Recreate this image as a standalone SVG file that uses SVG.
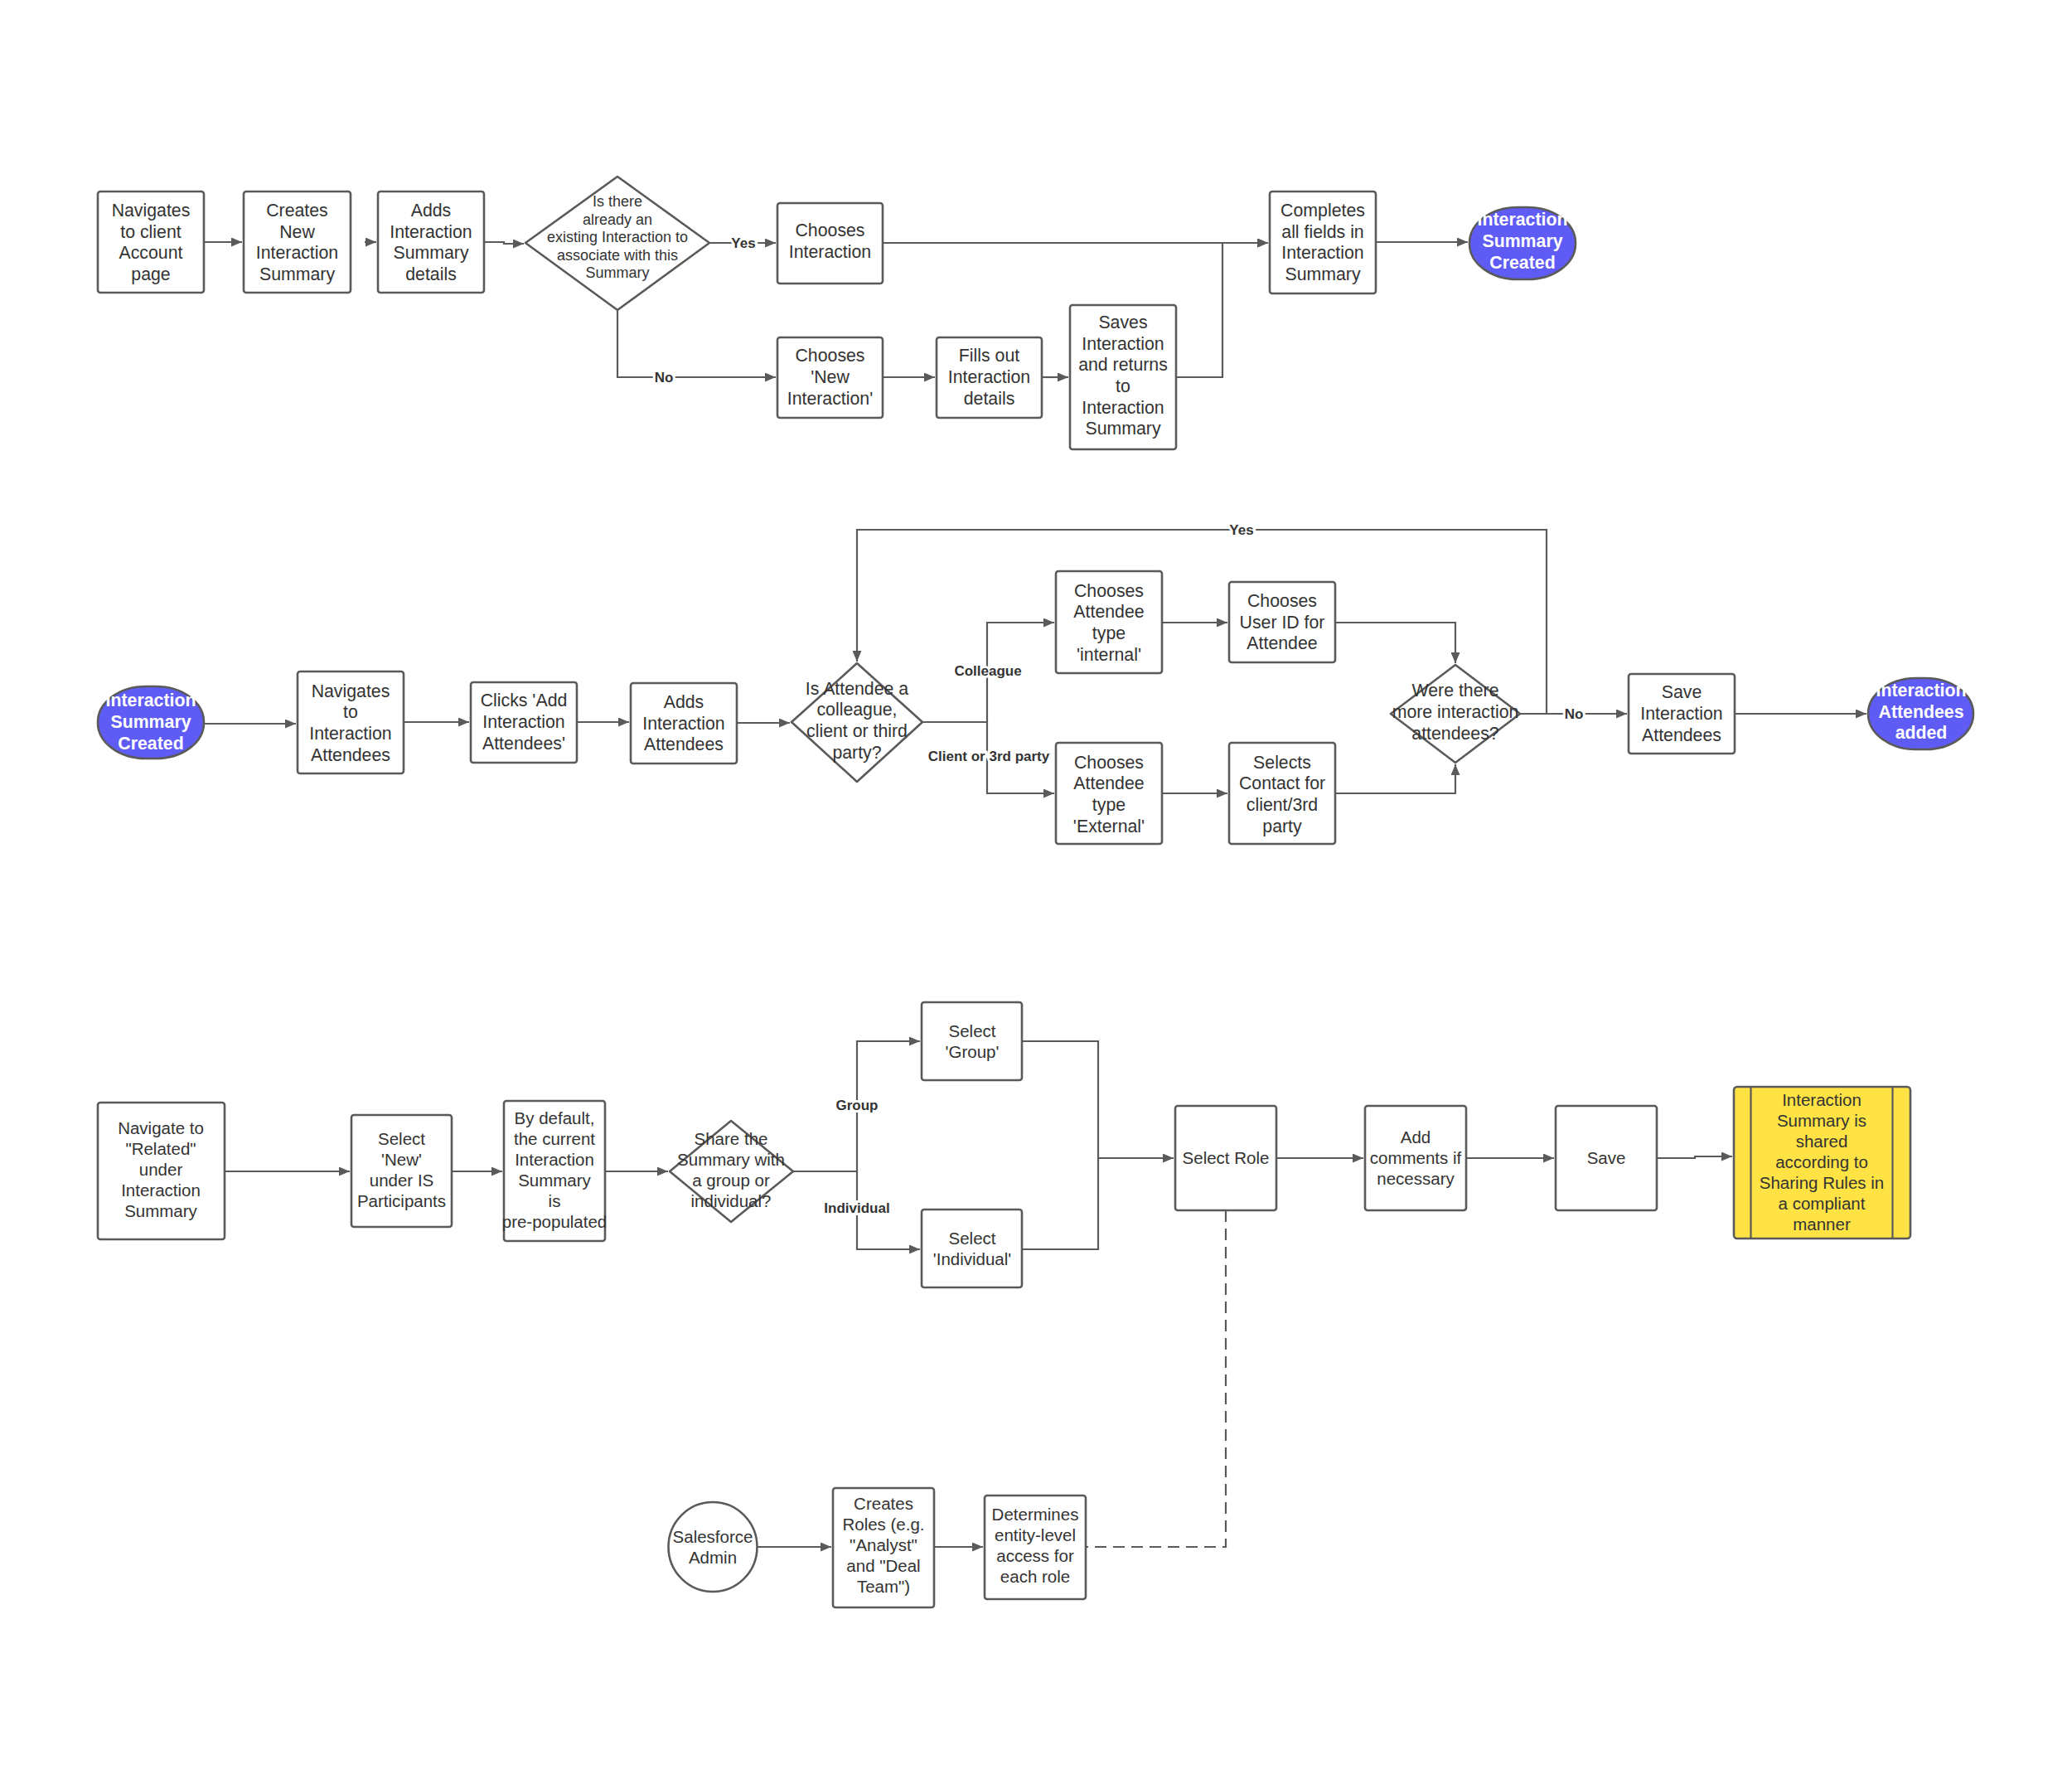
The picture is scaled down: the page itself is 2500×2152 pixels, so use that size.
<svg xmlns="http://www.w3.org/2000/svg" width="2500" height="2152" viewBox="0 0 2500 2152">
<defs>
<marker id="arr" markerUnits="userSpaceOnUse" markerWidth="13" markerHeight="11" refX="13" refY="5.5" orient="auto"><path d="M0,0 L13,5.5 L0,11 z" fill="#5a5a5a"/></marker>
<style>
.box{fill:#fff;stroke:#5a5a5a;stroke-width:2.6}
.term{fill:#5f5cf6;stroke:#5a5a5a;stroke-width:2.6}
.yel{fill:#ffe244;stroke:#5a5a5a;stroke-width:2.6}
.ln{fill:none;stroke:#5a5a5a;stroke-width:2.2;marker-end:url(#arr)}
.pl{fill:none;stroke:#5a5a5a;stroke-width:2.2}
.dash{fill:none;stroke:#5a5a5a;stroke-width:2.2;stroke-dasharray:14 8}
text{font-family:"Liberation Sans",Arial,sans-serif;text-anchor:middle;dominant-baseline:central}
.t{font-size:21.3px;fill:#333}
.t3{font-size:20.5px;fill:#333}
.ts{font-size:18px;fill:#333}
.tw{font-size:21.3px;fill:#fff;font-weight:bold}
.lb{font-size:17px;fill:#333;font-weight:bold;stroke:#fff;stroke-width:6;paint-order:stroke}
</style>
</defs>
<rect width="2500" height="2152" fill="#fff"/>

<g id="connectors">
<path class="ln" d="M246,292 L292,292"/>
<path class="ln" d="M440,292 L454,292"/>
<path class="ln" d="M584,292 L608,292 L608,294 L632,294"/>
<path class="ln" d="M856,293 L936,293"/>
<path class="ln" d="M745,374 L745,455 L936,455"/>
<path class="ln" d="M1065,293 L1530,293"/>
<path class="ln" d="M1065,455 L1128,455"/>
<path class="ln" d="M1257,455 L1289,455"/>
<path class="ln" d="M1419,455 L1475,455 L1475,293 L1530,293"/>
<path class="ln" d="M1660,292 L1771,292"/>

<path class="ln" d="M246,873 L357,873"/>
<path class="ln" d="M487,871 L566,871"/>
<path class="ln" d="M696,871 L759,871"/>
<path class="ln" d="M889,872 L953,872"/>
<path class="ln" d="M1113,871 L1191,871 L1191,751 L1272,751"/>
<path class="ln" d="M1191,871 L1191,957 L1272,957"/>
<path class="ln" d="M1402,751 L1481,751"/>
<path class="ln" d="M1611,751 L1756,751 L1756,800"/>
<path class="ln" d="M1402,957 L1481,957"/>
<path class="ln" d="M1611,957 L1756,957 L1756,922"/>
<path class="ln" d="M1834,861 L1963,861"/>
<path class="ln" d="M1866,861 L1866,639 L1034,639 L1034,798"/>
<path class="ln" d="M2093,861 L2252,861"/>

<path class="ln" d="M271,1413 L422,1413"/>
<path class="ln" d="M545,1413 L606,1413"/>
<path class="ln" d="M730,1413 L806,1413"/>
<path class="ln" d="M957,1413 L1034,1413 L1034,1256 L1110,1256"/>
<path class="ln" d="M1034,1413 L1034,1507 L1110,1507"/>
<path class="pl" d="M1234,1256 L1325,1256 L1325,1507 L1234,1507"/>
<path class="ln" d="M1325,1397 L1416,1397"/>
<path class="ln" d="M1540,1397 L1645,1397"/>
<path class="ln" d="M1769,1397 L1875,1397"/>
<path class="ln" d="M1999,1397 L2045,1397 L2045,1395 L2090,1395"/>
<path class="dash" d="M1479,1460 L1479,1866 L1311,1866"/>
<path class="ln" d="M914,1866 L1003,1866"/>
<path class="ln" d="M1127,1866 L1186,1866"/>

<text class="lb" x="897" y="293">Yes</text>
<text class="lb" x="801" y="455">No</text>
<text class="lb" x="1192" y="809">Colleague</text>
<text class="lb" x="1193" y="912">Client or 3rd party</text>
<text class="lb" x="1899" y="861">No</text>
<text class="lb" x="1498" y="639">Yes</text>
<text class="lb" x="1034" y="1333">Group</text>
<text class="lb" x="1034" y="1457">Individual</text>
</g>

<g id="n1"><rect class="box" x="118" y="231" width="128" height="122" rx="3"/>
<text class="t"><tspan x="182" y="254">Navigates</tspan><tspan x="182" y="279.6">to client</tspan><tspan x="182" y="305.4">Account</tspan><tspan x="182" y="331">page</tspan></text></g>
<g id="n2"><rect class="box" x="294" y="231" width="129" height="122" rx="3"/>
<text class="t"><tspan x="358.5" y="254">Creates</tspan><tspan x="358.5" y="279.6">New</tspan><tspan x="358.5" y="305.4">Interaction</tspan><tspan x="358.5" y="331">Summary</tspan></text></g>
<g id="n3"><rect class="box" x="456" y="231" width="128" height="122" rx="3"/>
<text class="t"><tspan x="520" y="254">Adds</tspan><tspan x="520" y="279.6">Interaction</tspan><tspan x="520" y="305.4">Summary</tspan><tspan x="520" y="331">details</tspan></text></g>
<g id="n4"><path class="box" d="M745,213 L856,293 L745,374 L634,293 Z" stroke-linejoin="round"/>
<text class="ts"><tspan x="745" y="243">Is there</tspan><tspan x="745" y="264.5">already an</tspan><tspan x="745" y="286">existing Interaction to</tspan><tspan x="745" y="307.5">associate with this</tspan><tspan x="745" y="329">Summary</tspan></text></g>
<g id="n5"><rect class="box" x="938" y="245" width="127" height="97" rx="3"/>
<text class="t"><tspan x="1001.5" y="278.2">Chooses</tspan><tspan x="1001.5" y="303.8">Interaction</tspan></text></g>
<g id="n6"><rect class="box" x="938" y="407" width="127" height="97" rx="3"/>
<text class="t"><tspan x="1001.5" y="429.3">Chooses</tspan><tspan x="1001.5" y="455">'New</tspan><tspan x="1001.5" y="480.7">Interaction'</tspan></text></g>
<g id="n7"><rect class="box" x="1130" y="407" width="127" height="97" rx="3"/>
<text class="t"><tspan x="1193.5" y="429.3">Fills out</tspan><tspan x="1193.5" y="455">Interaction</tspan><tspan x="1193.5" y="480.7">details</tspan></text></g>
<g id="n8"><rect class="box" x="1291" y="368" width="128" height="174" rx="3"/>
<text class="t"><tspan x="1355" y="388.8">Saves</tspan><tspan x="1355" y="414.5">Interaction</tspan><tspan x="1355" y="440.2">and returns</tspan><tspan x="1355" y="465.9">to</tspan><tspan x="1355" y="491.6">Interaction</tspan><tspan x="1355" y="517.3">Summary</tspan></text></g>
<g id="n9"><rect class="box" x="1532" y="231" width="128" height="123" rx="3"/>
<text class="t"><tspan x="1596" y="254">Completes</tspan><tspan x="1596" y="279.6">all fields in</tspan><tspan x="1596" y="305.4">Interaction</tspan><tspan x="1596" y="331">Summary</tspan></text></g>
<g id="n10"><rect class="term" x="1773" y="250" width="128" height="87" rx="58" ry="43"/>
<text class="tw"><tspan x="1837" y="265.3">Interaction</tspan><tspan x="1837" y="291">Summary</tspan><tspan x="1837" y="316.7">Created</tspan></text></g>

<g id="n11"><rect class="term" x="118" y="828" width="128" height="87" rx="58" ry="43"/>
<text class="tw"><tspan x="182" y="845.3">Interaction</tspan><tspan x="182" y="871">Summary</tspan><tspan x="182" y="896.7">Created</tspan></text></g>
<g id="n12"><rect class="box" x="359" y="810" width="128" height="123" rx="3"/>
<text class="t"><tspan x="423" y="833.5">Navigates</tspan><tspan x="423" y="859.2">to</tspan><tspan x="423" y="884.9">Interaction</tspan><tspan x="423" y="910.6">Attendees</tspan></text></g>
<g id="n13"><rect class="box" x="568" y="823" width="128" height="97" rx="3"/>
<text class="t"><tspan x="632" y="845.3">Clicks 'Add</tspan><tspan x="632" y="871">Interaction</tspan><tspan x="632" y="896.7">Attendees'</tspan></text></g>
<g id="n14"><rect class="box" x="761" y="824" width="128" height="97" rx="3"/>
<text class="t"><tspan x="825" y="846.8">Adds</tspan><tspan x="825" y="872.5">Interaction</tspan><tspan x="825" y="898.2">Attendees</tspan></text></g>
<g id="n15"><path class="box" d="M1034,800 L1113,871 L1034,943 L955,871 Z" stroke-linejoin="round"/>
<text class="t"><tspan x="1034" y="830.5">Is Attendee a</tspan><tspan x="1034" y="856.2">colleague,</tspan><tspan x="1034" y="881.9">client or third</tspan><tspan x="1034" y="907.6">party?</tspan></text></g>
<g id="n16"><rect class="box" x="1274" y="689" width="128" height="123" rx="3"/>
<text class="t"><tspan x="1338" y="712.5">Chooses</tspan><tspan x="1338" y="738.2">Attendee</tspan><tspan x="1338" y="763.9">type</tspan><tspan x="1338" y="789.6">'internal'</tspan></text></g>
<g id="n17"><rect class="box" x="1483" y="702" width="128" height="97" rx="3"/>
<text class="t"><tspan x="1547" y="725">Chooses</tspan><tspan x="1547" y="750.7">User ID for</tspan><tspan x="1547" y="776.4">Attendee</tspan></text></g>
<g id="n18"><rect class="box" x="1274" y="896" width="128" height="122" rx="3"/>
<text class="t"><tspan x="1338" y="919.5">Chooses</tspan><tspan x="1338" y="945.2">Attendee</tspan><tspan x="1338" y="970.9">type</tspan><tspan x="1338" y="996.6">'External'</tspan></text></g>
<g id="n19"><rect class="box" x="1483" y="896" width="128" height="122" rx="3"/>
<text class="t"><tspan x="1547" y="919.5">Selects</tspan><tspan x="1547" y="945.2">Contact for</tspan><tspan x="1547" y="970.9">client/3rd</tspan><tspan x="1547" y="996.6">party</tspan></text></g>
<g id="n20"><path class="box" d="M1756,802 L1834,861 L1756,920 L1678,861 Z" stroke-linejoin="round"/>
<text class="t"><tspan x="1756" y="833.3">Were there</tspan><tspan x="1756" y="859">more interaction</tspan><tspan x="1756" y="884.7">attendees?</tspan></text></g>
<g id="n21"><rect class="box" x="1965" y="813" width="128" height="96" rx="3"/>
<text class="t"><tspan x="2029" y="835.3">Save</tspan><tspan x="2029" y="861">Interaction</tspan><tspan x="2029" y="886.7">Attendees</tspan></text></g>
<g id="n22"><rect class="term" x="2254" y="818" width="127" height="86" rx="58" ry="43"/>
<text class="tw"><tspan x="2318" y="832.8">Interaction</tspan><tspan x="2318" y="858.5">Attendees</tspan><tspan x="2318" y="884.2">added</tspan></text></g>

<g id="n23"><rect class="box" x="118" y="1330" width="153" height="165" rx="3"/>
<text class="t3"><tspan x="194" y="1359.5">Navigate to</tspan><tspan x="194" y="1384.5">"Related"</tspan><tspan x="194" y="1409.5">under</tspan><tspan x="194" y="1434.5">Interaction</tspan><tspan x="194" y="1459.5">Summary</tspan></text></g>
<g id="n24"><rect class="box" x="424" y="1345" width="121" height="135" rx="3"/>
<text class="t3"><tspan x="484.5" y="1373">Select</tspan><tspan x="484.5" y="1398">'New'</tspan><tspan x="484.5" y="1423">under IS</tspan><tspan x="484.5" y="1448">Participants</tspan></text></g>
<g id="n25"><rect class="box" x="608" y="1328" width="122" height="169" rx="3"/>
<text class="t3"><tspan x="669" y="1348">By default,</tspan><tspan x="669" y="1373">the current</tspan><tspan x="669" y="1398">Interaction</tspan><tspan x="669" y="1423">Summary</tspan><tspan x="669" y="1448">is</tspan><tspan x="669" y="1473">pre-populated</tspan></text></g>
<g id="n26"><path class="box" d="M882,1352 L957,1413 L882,1474 L808,1413 Z" stroke-linejoin="round"/>
<text class="t3"><tspan x="882" y="1373">Share the</tspan><tspan x="882" y="1398">Summary with</tspan><tspan x="882" y="1423">a group or</tspan><tspan x="882" y="1448">individual?</tspan></text></g>
<g id="n27"><rect class="box" x="1112" y="1209" width="121" height="94" rx="3"/>
<text class="t3"><tspan x="1173" y="1242.5">Select</tspan><tspan x="1173" y="1267.5">'Group'</tspan></text></g>
<g id="n28"><rect class="box" x="1112" y="1459" width="121" height="94" rx="3"/>
<text class="t3"><tspan x="1173" y="1492.5">Select</tspan><tspan x="1173" y="1517.5">'Individual'</tspan></text></g>
<g id="n29"><rect class="box" x="1418" y="1334" width="122" height="126" rx="3"/>
<text class="t3" x="1479" y="1396">Select Role</text></g>
<g id="n30"><rect class="box" x="1647" y="1334" width="122" height="126" rx="3"/>
<text class="t3"><tspan x="1708" y="1370.5">Add</tspan><tspan x="1708" y="1395.5">comments if</tspan><tspan x="1708" y="1420.5">necessary</tspan></text></g>
<g id="n31"><rect class="box" x="1877" y="1334" width="122" height="126" rx="3"/>
<text class="t3" x="1938" y="1396">Save</text></g>
<g id="n32"><rect class="yel" x="2092" y="1311" width="213" height="183" rx="4"/>
<path class="pl" d="M2112.5,1311 L2112.5,1494 M2283.5,1311 L2283.5,1494" stroke-width="2.6"/>
<text class="t3"><tspan x="2198" y="1326">Interaction</tspan><tspan x="2198" y="1351">Summary is</tspan><tspan x="2198" y="1376">shared</tspan><tspan x="2198" y="1401">according to</tspan><tspan x="2198" y="1426">Sharing Rules in</tspan><tspan x="2198" y="1451">a compliant</tspan><tspan x="2198" y="1476">manner</tspan></text></g>
<g id="n33"><ellipse class="box" cx="860" cy="1866" rx="53.5" ry="54"/>
<text class="t3"><tspan x="860" y="1852.5">Salesforce</tspan><tspan x="860" y="1877.5">Admin</tspan></text></g>
<g id="n34"><rect class="box" x="1005" y="1795" width="122" height="144" rx="3"/>
<text class="t3"><tspan x="1066" y="1813">Creates</tspan><tspan x="1066" y="1838">Roles (e.g.</tspan><tspan x="1066" y="1863">"Analyst"</tspan><tspan x="1066" y="1888">and "Deal</tspan><tspan x="1066" y="1913">Team")</tspan></text></g>
<g id="n35"><rect class="box" x="1188" y="1804" width="122" height="125" rx="3"/>
<text class="t3"><tspan x="1249" y="1826">Determines</tspan><tspan x="1249" y="1851">entity-level</tspan><tspan x="1249" y="1876">access for</tspan><tspan x="1249" y="1901">each role</tspan></text></g>
</svg>
